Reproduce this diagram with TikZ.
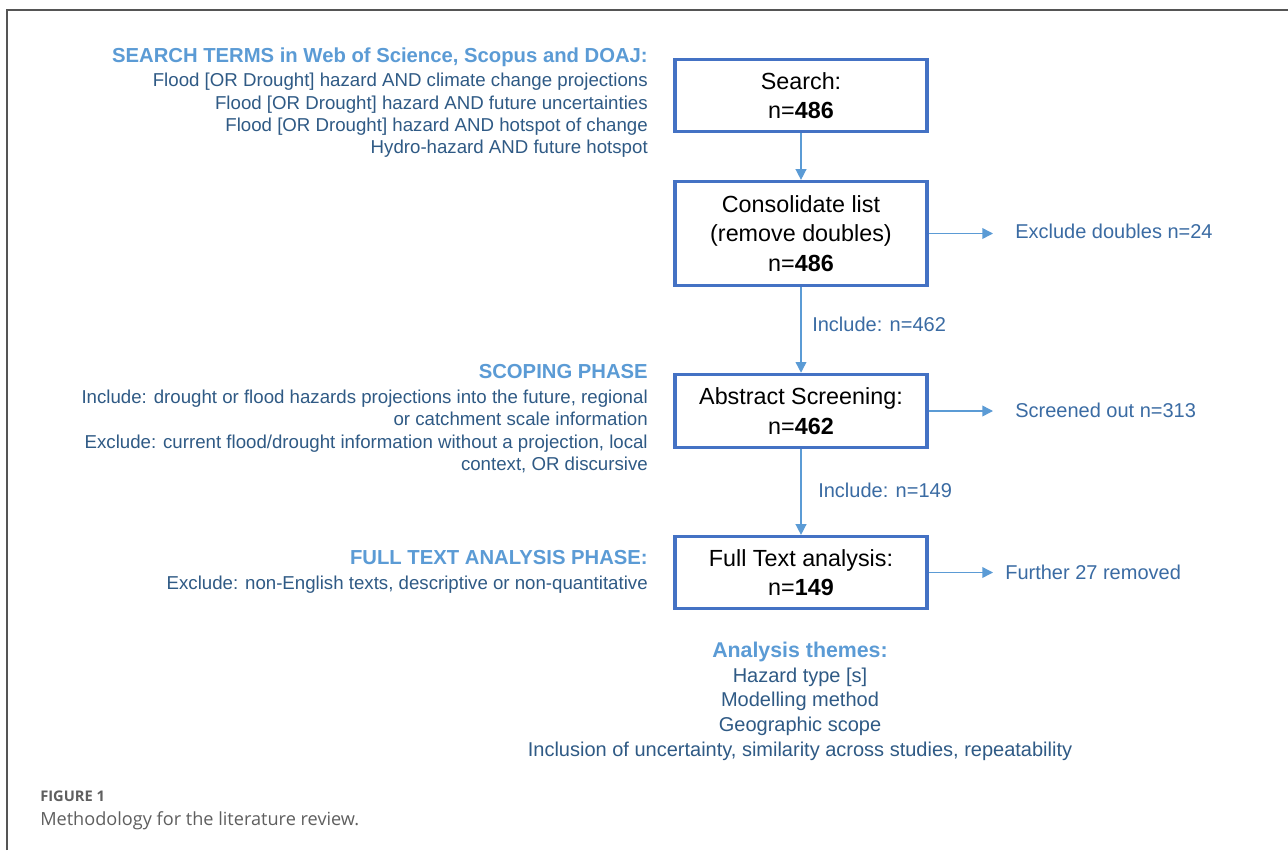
\documentclass[tikz,border=0pt]{standalone}
\usepackage{fontspec}
\setmainfont{Liberation Sans}
\newfontfamily\capfont{Open Sans}
\usetikzlibrary{arrows.meta}
\definecolor{boxblue}{HTML}{4472C4}
\definecolor{arrblue}{HTML}{5B9BD5}
\definecolor{headblue}{HTML}{5B9BD5}
\definecolor{bodyblue}{HTML}{2F5A85}
\definecolor{sideblue}{HTML}{3A6BA3}
\definecolor{framegray}{HTML}{555555}
\definecolor{capgray}{HTML}{5F5F5F}
\begin{document}
\begin{tikzpicture}[x=0.75pt,y=-0.75pt,
  flowbox/.style={draw=boxblue, line width=2.4pt, minimum width=189pt, align=center,
    inner sep=0pt, text=black, font=\fontsize{17.5}{22}\selectfont},
  arr/.style={draw=arrblue, line width=1.1pt, -{Triangle[length=8pt,width=8pt]}},
  headtxt/.style={anchor=base east, inner sep=0pt, text=headblue, font=\fontsize{15.2}{18}\selectfont\bfseries},
  bodytxt/.style={anchor=base east, inner sep=0pt, text=bodyblue, font=\fontsize{14}{17}\selectfont},
  sidetxt/.style={anchor=base west, inner sep=0pt, text=sideblue, font=\fontsize{15}{18}\selectfont},
  themehead/.style={anchor=base, inner sep=0pt, text=headblue, font=\fontsize{16}{19}\selectfont\bfseries},
  themetxt/.style={anchor=base, inner sep=0pt, text=bodyblue, font=\fontsize{15}{18}\selectfont},
]
\useasboundingbox (0,0) rectangle (1288,850);
\fill[white] (0,0) rectangle (1288,850);
\draw[framegray, line width=1.1pt] (7,850) -- (7,10) -- (1288,10);

% flow boxes
\node[flowbox, minimum height=54pt] (search) at (801,95.5) {Search:\\ n=\textbf{486}};
\node[flowbox, minimum height=78pt] (cons) at (801,233.5) {Consolidate list\\ (remove doubles)\\ n=\textbf{486}};
\node[flowbox, minimum height=55pt] (abs) at (801,411) {Abstract Screening:\\ n=\textbf{462}};
\node[flowbox, minimum height=54pt] (full) at (801,572.5) {Full Text analysis:\\ n=\textbf{149}};

% vertical connectors
\draw[arr] (search) -- (cons);
\draw[arr] (cons) -- (abs);
\draw[arr] (abs) -- (full);
\node[sidetxt] (inc1) at (812,331) {Include: n=462};
\node[sidetxt] (inc2) at (818,497) {Include: n=149};

% side outputs
\node[sidetxt] (exd) at (1015,238) {Exclude doubles n=24};
\node[sidetxt] (scr) at (1015,417) {Screened out n=313};
\node[sidetxt] (fur) at (1005,579) {Further 27 removed};
\coordinate (exdA) at (993,233.5);
\coordinate (scrA) at (993,411);
\coordinate (furA) at (993,572.5);
\draw[arr] (cons.east) -- (exdA);
\draw[arr] (abs.east) -- (scrA);
\draw[arr] (full.east) -- (furA);

% left texts
\node[headtxt] (sth) at (648,62) {SEARCH TERMS in Web of Science, Scopus and DOAJ:};
\node[bodytxt] (st1) at (648,86) {Flood [OR Drought] hazard AND climate change projections};
\node[bodytxt] (st2) at (648,109) {Flood [OR Drought] hazard AND future uncertainties};
\node[bodytxt] (st3) at (648,131) {Flood [OR Drought] hazard AND hotspot of change};
\node[bodytxt] (st4) at (648,153) {Hydro-hazard AND future hotspot};

\node[headtxt] (sph) at (648,378) {SCOPING PHASE};
\node[bodytxt] (sp1) at (648,403) {Include: drought or flood hazards projections into the future, regional};
\node[bodytxt] (sp2) at (648,425) {or catchment scale information};
\node[bodytxt] (sp3) at (648,448) {Exclude: current flood/drought information without a projection, local};
\node[bodytxt] (sp4) at (648,470) {context, OR discursive};

\node[headtxt] (fth) at (648,564) {FULL TEXT ANALYSIS PHASE:};
\node[bodytxt] (ft1) at (648,589) {Exclude: non-English texts, descriptive or non-quantitative};

% analysis themes
\node[themehead] (ath) at (800,657) {Analysis themes:};
\node[themetxt] (at1) at (800,682) {Hazard type [s]};
\node[themetxt] (at2) at (800,706) {Modelling method};
\node[themetxt] (at3) at (800,731) {Geographic scope};
\node[themetxt] (at4) at (800,756) {Inclusion of uncertainty, similarity across studies, repeatability};

% caption
\node[anchor=base west, inner sep=0pt, text=capgray, font=\capfont\fontsize{11}{13}\selectfont\bfseries] (figl) at (40,801) {FIGURE 1};
\node[anchor=base west, inner sep=0pt, text=capgray, font=\capfont\fontsize{13.6}{16}\selectfont] (figc) at (40,825) {Methodology for the literature review.};
\end{tikzpicture}
\end{document}
